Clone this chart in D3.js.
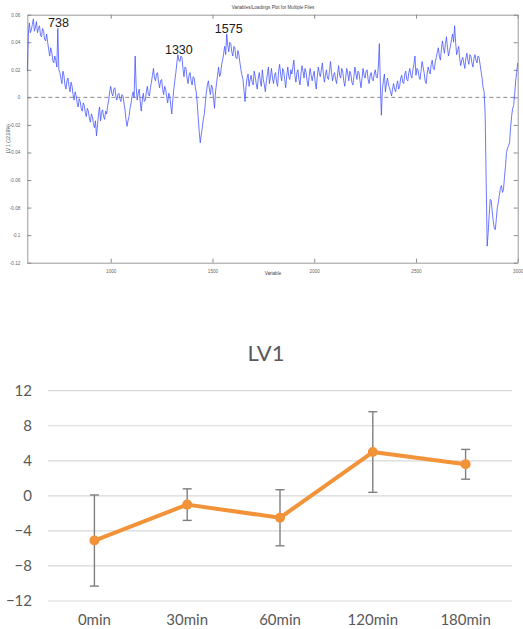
<!DOCTYPE html>
<html>
<head>
<meta charset="utf-8">
<script src="https://cdn.jsdelivr.net/npm/d3@7"></script>
<style>
  html, body { margin: 0; padding: 0; background: #fff; }
  svg { display: block; }
</style>
</head>
<body>
<svg id="chart" width="523" height="629"></svg>
<script>
// ---------- Top panel: loadings spectrum ----------
const loadTitle = "Variables/Loadings Plot for Multiple Files";
const loadXLabel = "Variable";
const loadYLabel = "LV 1 (12.99%)";
const varStart = 590;
const varStep = 5;
const loadings = [
  0.019, 0.045, 0.054, 0.047, 0.049, 0.053, 0.057, 0.048, 0.051, 0.055, 0.047, 0.050, 0.052, 0.045, 0.044, 0.050, 0.048, 0.042, 0.041, 0.046,
  0.040, 0.035, 0.030, 0.036, 0.033, 0.027, 0.025, 0.030, 0.027, 0.022, 0.050, 0.020, 0.018, 0.014, 0.010, 0.019, 0.016, 0.009, 0.006, 0.012,
  0.014, 0.008, 0.004, 0.011, 0.008, 0.002, -0.002, 0.004, 0.001, -0.004, -0.007, -0.001, -0.003, -0.008, -0.010, -0.004, -0.006, -0.011, -0.014, -0.008,
  -0.010, -0.015, -0.018, -0.012, -0.014, -0.019, -0.022, -0.017, -0.028, -0.020, -0.012, -0.007, -0.017, -0.011, -0.009, -0.014, -0.016, -0.010, -0.012, -0.006,
  -0.002, 0.004, 0.008, 0.003, 0.001, 0.006, 0.007, 0.001, -0.002, 0.002, 0.003, -0.001, -0.003, 0.002, 0.001, -0.004, -0.009, -0.016, -0.021, -0.017,
  -0.014, -0.008, -0.004, 0.001, 0.004, 0.000, 0.030, 0.008, -0.002, 0.003, 0.006, -0.003, -0.010, -0.002, 0.003, -0.003, -0.002, 0.004, 0.008, 0.002,
  0.001, 0.007, 0.011, 0.016, 0.021, 0.014, 0.012, 0.017, 0.018, 0.011, 0.007, 0.012, 0.013, 0.006, 0.002, 0.008, 0.006, 0.000, -0.004, 0.003,
  0.001, -0.006, -0.012, -0.002, 0.006, 0.012, 0.018, 0.025, 0.031, 0.027, 0.026, 0.030, 0.029, 0.021, 0.015, 0.022, 0.021, 0.014, 0.010, 0.016,
  0.018, 0.012, 0.009, 0.015, 0.014, 0.008, 0.004, -0.004, -0.015, -0.025, -0.033, -0.027, -0.022, -0.016, -0.012, -0.004, 0.004, 0.009, 0.012, 0.006,
  0.002, 0.009, 0.007, 0.000, -0.008, 0.004, 0.010, 0.016, 0.022, 0.015, 0.017, 0.024, 0.027, 0.032, 0.037, 0.031, 0.046, 0.038, 0.033, 0.040,
  0.039, 0.033, 0.030, 0.037, 0.036, 0.029, 0.028, 0.034, 0.031, 0.025, 0.020, 0.016, 0.013, 0.005, -0.003, 0.008, 0.014, 0.017, 0.008, 0.013,
  0.016, 0.011, 0.009, 0.019, 0.015, 0.010, 0.006, 0.014, 0.018, 0.012, 0.008, 0.020, 0.013, 0.009, 0.004, 0.012, 0.017, 0.022, 0.010, 0.015,
  0.021, 0.014, 0.010, 0.016, 0.018, 0.011, 0.008, 0.019, 0.024, 0.017, 0.012, 0.021, 0.019, 0.013, 0.007, 0.016, 0.022, 0.015, 0.013, 0.020,
  0.017, 0.022, 0.027, 0.016, 0.011, 0.018, 0.020, 0.013, 0.009, 0.017, 0.023, 0.019, 0.014, 0.021, 0.018, 0.012, 0.008, 0.015, 0.021, 0.016,
  0.012, 0.016, 0.019, 0.011, 0.006, 0.015, 0.022, 0.018, 0.015, 0.020, 0.025, 0.017, 0.011, 0.016, 0.020, 0.014, 0.013, 0.019, 0.026, 0.018,
  0.012, 0.016, 0.018, 0.013, 0.010, 0.017, 0.023, 0.016, 0.014, 0.021, 0.019, 0.012, 0.008, 0.015, 0.021, 0.017, 0.012, 0.019, 0.017, 0.011,
  0.009, 0.015, 0.022, 0.017, 0.013, 0.019, 0.018, 0.012, 0.007, 0.014, 0.021, 0.016, 0.014, 0.019, 0.020, 0.013, 0.010, 0.016, 0.018, 0.013,
  0.012, 0.017, 0.020, 0.015, 0.014, 0.022, 0.039, 0.010, -0.013, 0.006, 0.012, 0.017, 0.004, 0.010, 0.014, 0.009, 0.007, 0.004, 0.001, 0.006,
  0.010, 0.006, 0.004, 0.009, 0.012, 0.006, 0.008, 0.014, 0.016, 0.011, 0.010, 0.017, 0.019, 0.013, 0.012, 0.018, 0.021, 0.016, 0.014, 0.020,
  0.024, 0.030, 0.016, 0.021, 0.020, 0.015, 0.013, 0.019, 0.026, 0.022, 0.018, 0.012, 0.010, 0.017, 0.022, 0.019, 0.017, 0.024, 0.027, 0.021,
  0.020, 0.026, 0.029, 0.033, 0.036, 0.030, 0.027, 0.035, 0.041, 0.036, 0.032, 0.039, 0.044, 0.036, 0.030, 0.034, 0.038, 0.042, 0.046, 0.040,
  0.052, 0.040, 0.031, 0.034, 0.037, 0.028, 0.023, 0.027, 0.029, 0.025, 0.021, 0.028, 0.032, 0.027, 0.024, 0.031, 0.030, 0.025, 0.022, 0.028,
  0.031, 0.027, 0.025, 0.030, 0.029, 0.024, 0.019, 0.014, 0.007, 0.004, -0.012, -0.060, -0.108, -0.098, -0.085, -0.074, -0.075, -0.083, -0.090, -0.095,
  -0.096, -0.088, -0.080, -0.076, -0.071, -0.066, -0.064, -0.069, -0.067, -0.058, -0.050, -0.040, -0.037, -0.035, -0.033, -0.022, -0.014, -0.008, -0.006, 0.002,
  0.012, 0.018, 0.025
];
const loadXTicks = [1000, 1500, 2000, 2500, 3000];
const loadYTicks = [0.06, 0.04, 0.02, 0, -0.02, -0.04, -0.06, -0.08, -0.1, -0.12];
const peakLabels = ["738", "1330", "1575"];
const peakVars = [738, 1330, 1575];
const peakVals = [0.050, 0.031, 0.046];

// ---------- Bottom panel: LV1 time course ----------
const lvTitle = "LV1";
const timePoints = ["0min", "30min", "60min", "120min", "180min"];
const lvMeans = [-5.1, -1.0, -2.5, 5.0, 3.6];
const lvErrors = [5.2, 1.8, 3.2, 4.6, 1.7];
const lvTicks = [12, 8, 4, 0, -4, -8, -12];

const svg = d3.select("#chart");

// ===== TOP =====
const tx = d3.scaleLinear().domain([590, 3000]).range([27.3, 517.7]);
const ty = d3.scaleLinear().domain([-0.12, 0.06]).range([262.7, 14.7]);
const topG = svg.append("g");
const tickFont = "Liberation Sans, Arial, sans-serif";

const axStyle = g => {
  g.selectAll(".domain").attr("stroke", "#9a9a9a").attr("stroke-width", 1);
  g.selectAll(".tick line").attr("stroke", "#8a8a8a");
  g.selectAll("text").attr("fill", "#666").attr("font-size", 4.6).attr("font-family", tickFont);
};
topG.append("g").attr("transform", `translate(0,${ty(-0.12)})`)
  .call(d3.axisBottom(tx).tickValues(loadXTicks).tickSizeInner(-4).tickSizeOuter(0).tickPadding(7).tickFormat(d3.format("d")))
  .call(axStyle);
topG.append("g").attr("transform", `translate(0,${ty(0.06)})`)
  .call(d3.axisTop(tx).tickValues(loadXTicks).tickSizeInner(-4).tickSizeOuter(0).tickFormat(""))
  .call(axStyle);
topG.append("g").attr("transform", `translate(${tx(590)},0)`)
  .call(d3.axisLeft(ty).tickValues(loadYTicks).tickSizeInner(-4).tickSizeOuter(0).tickPadding(7).tickFormat(d => d === 0 ? "0" : String(d)))
  .call(axStyle);
topG.append("g").attr("transform", `translate(${tx(3000)},0)`)
  .call(d3.axisRight(ty).tickValues(loadYTicks).tickSizeInner(-4).tickSizeOuter(0).tickFormat(""))
  .call(axStyle);

topG.append("line")
  .attr("x1", tx(590)).attr("x2", tx(3000))
  .attr("y1", ty(0)).attr("y2", ty(0))
  .attr("stroke", "#8c8c8c").attr("stroke-width", 1).attr("stroke-dasharray", "4,3");

const specLine = d3.line()
  .x((d, i) => tx(varStart + i * varStep))
  .y(d => ty(d));
topG.append("path").datum(loadings)
  .attr("d", specLine)
  .attr("fill", "none")
  .attr("stroke", "#4656ff")
  .attr("stroke-width", 0.8)
  .attr("stroke-linejoin", "round");

topG.selectAll("text.peak").data(peakLabels).enter().append("text")
  .attr("class", "peak")
  .attr("x", (d, i) => tx(peakVars[i]) + 1)
  .attr("y", (d, i) => ty(peakVals[i]) - 1)
  .attr("text-anchor", "middle")
  .attr("font-family", tickFont)
  .attr("font-size", 12.5)
  .attr("fill", "#1a1a1a")
  .text(d => d);

topG.append("text").attr("x", 273).attr("y", 9).attr("text-anchor", "middle")
  .attr("font-family", tickFont).attr("font-size", 4.6).attr("fill", "#444").text(loadTitle);
topG.append("text").attr("x", 273).attr("y", 275).attr("text-anchor", "middle")
  .attr("font-family", tickFont).attr("font-size", 4.6).attr("fill", "#444").text(loadXLabel);
topG.append("text").attr("transform", `translate(10,${ty(-0.03)}) rotate(-90)`).attr("text-anchor", "middle")
  .attr("font-family", tickFont).attr("font-size", 4.6).attr("fill", "#444").text(loadYLabel);

// ===== BOTTOM =====
const bx = d3.scaleBand().domain(timePoints).range([48, 512]);
const by = d3.scaleLinear().domain([-12, 12]).range([601, 390.7]);
const bot = svg.append("g");
const bFont = "Lato, 'Open Sans', sans-serif";
const grey = "#595959";

bot.append("g").selectAll("line").data(lvTicks).enter().append("line")
  .attr("x1", 48).attr("x2", 512)
  .attr("y1", d => by(d)).attr("y2", d => by(d))
  .attr("stroke", "#d9d9d9").attr("stroke-width", 1.2);

const yAx = bot.append("g").attr("transform", "translate(48,0)")
  .call(d3.axisLeft(by).tickValues(lvTicks).tickSize(0).tickPadding(16));
yAx.select(".domain").remove();
yAx.selectAll("text").attr("font-family", bFont).attr("font-size", 15).attr("fill", grey);

const xAx = bot.append("g").attr("transform", "translate(0,606)")
  .call(d3.axisBottom(bx).tickSize(0).tickPadding(8));
xAx.select(".domain").remove();
xAx.selectAll("text").attr("font-family", bFont).attr("font-size", 15).attr("fill", grey);

bot.append("text").attr("x", 266).attr("y", 361).attr("text-anchor", "middle")
  .attr("font-family", bFont).attr("font-size", 22).attr("fill", grey).text(lvTitle);

const cx = d => bx(d) + bx.bandwidth() / 2;
const eb = bot.append("g").attr("stroke", "#7f7f7f").attr("stroke-width", 1.4);
timePoints.forEach((t, i) => {
  const x = cx(t), y1 = by(lvMeans[i] + lvErrors[i]), y2 = by(lvMeans[i] - lvErrors[i]);
  eb.append("line").attr("x1", x).attr("x2", x).attr("y1", y1).attr("y2", y2);
  eb.append("line").attr("x1", x - 4.5).attr("x2", x + 4.5).attr("y1", y1).attr("y2", y1);
  eb.append("line").attr("x1", x - 4.5).attr("x2", x + 4.5).attr("y1", y2).attr("y2", y2);
});

const lvLine = d3.line().x((d, i) => cx(timePoints[i])).y(d => by(d));
bot.append("path").datum(lvMeans).attr("d", lvLine)
  .attr("fill", "none").attr("stroke", "#F39339").attr("stroke-width", 4).attr("stroke-linejoin", "round");
bot.selectAll("circle.pt").data(lvMeans).enter().append("circle")
  .attr("class", "pt")
  .attr("cx", (d, i) => cx(timePoints[i])).attr("cy", d => by(d)).attr("r", 5)
  .attr("fill", "#F39339");
</script>
</body>
</html>
